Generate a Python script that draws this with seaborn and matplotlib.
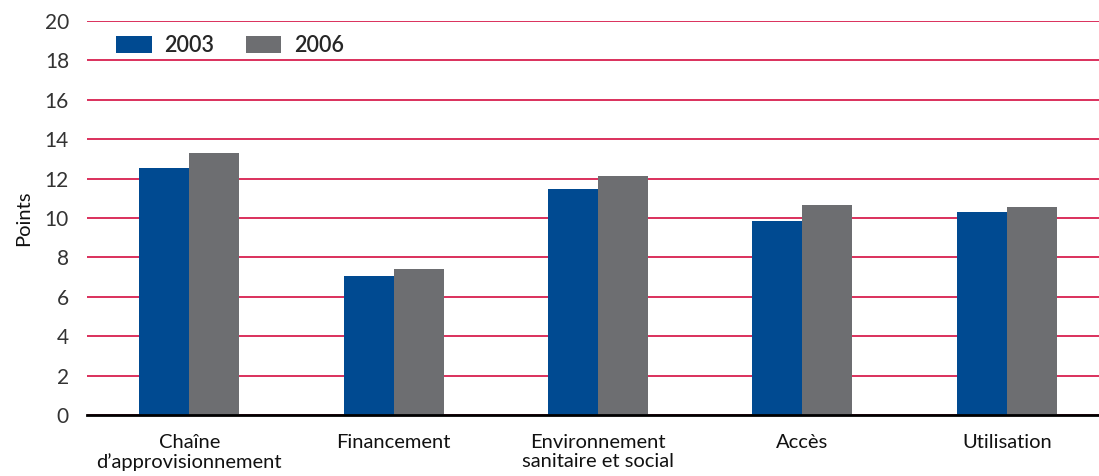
import matplotlib
matplotlib.use('Agg')
import matplotlib.pyplot as plt
import seaborn as sns
import pandas as pd
import numpy as np

categories = ["Chaîne\nd’approvisionnement", "Financement",
              "Environnement\nsanitaire et social", "Accès", "Utilisation"]
years = ["2003", "2006"]
values_2003 = [12.55, 7.05, 11.47, 9.85, 10.30]
values_2006 = [13.30, 7.42, 12.15, 10.66, 10.56]
y_ticks = [0, 2, 4, 6, 8, 10, 12, 14, 16, 18, 20]
y_label = "Points"

colors = {"2003": "#004a91", "2006": "#6d6e71"}
grid_color = "#d8204f"

sns.set_theme(style="white")
plt.rcParams['font.family'] = ['Lato', 'DejaVu Sans']

df = pd.DataFrame({
    "Catégorie": categories * 2,
    "Année": [years[0]] * len(categories) + [years[1]] * len(categories),
    "Points": values_2003 + values_2006,
})

fig = plt.figure(figsize=(10.99, 4.76), dpi=100)
ax = fig.add_axes([87 / 1099, 61 / 476, 1022 / 1099, 394 / 476])

sns.barplot(data=df, x="Catégorie", y="Points", hue="Année", palette=colors,
            width=0.49, saturation=1, linewidth=0, ax=ax, errorbar=None)

ax.set_xlim(-0.5, len(categories) - 0.5)
ax.set_ylim(0, 20)
ax.set_yticks(y_ticks)
ax.set_yticklabels([str(t) for t in y_ticks], fontsize=15, color='#333333')
ax.yaxis.grid(True, color=grid_color, lw=1.3)
ax.xaxis.grid(False)
ax.set_axisbelow(True)

for s in ["top", "right", "left"]:
    ax.spines[s].set_visible(False)
ax.spines["bottom"].set_color("black")
ax.spines["bottom"].set_linewidth(2)

ax.set_xticks(np.arange(-0.5, len(categories), 1), minor=True)
ax.tick_params(axis='x', which='minor', length=8, width=1, color='#333333', direction='out')
ax.tick_params(axis='x', which='major', length=0, pad=14, labelsize=14.5, labelcolor='#111111')
for lbl in ax.get_xticklabels():
    lbl.set_linespacing(1.12)
ax.tick_params(axis='y', which='both', length=0, pad=13)
ax.set_xlabel("")
ax.set_ylabel(y_label, fontsize=14.5, color='#111111')
ax.yaxis.set_label_coords(-0.054, 0.5)

handles, labels = ax.get_legend_handles_labels()
ax.legend(handles, labels, ncol=2, frameon=False, loc='upper left',
          bbox_to_anchor=(0.0284, 0.965), borderpad=0, borderaxespad=0,
          handlelength=1.65, handleheight=0.85, handletextpad=0.6,
          columnspacing=1.45, prop={'size': 15.5, 'weight': 'semibold'})

fig.savefig("out.png", dpi=100)
